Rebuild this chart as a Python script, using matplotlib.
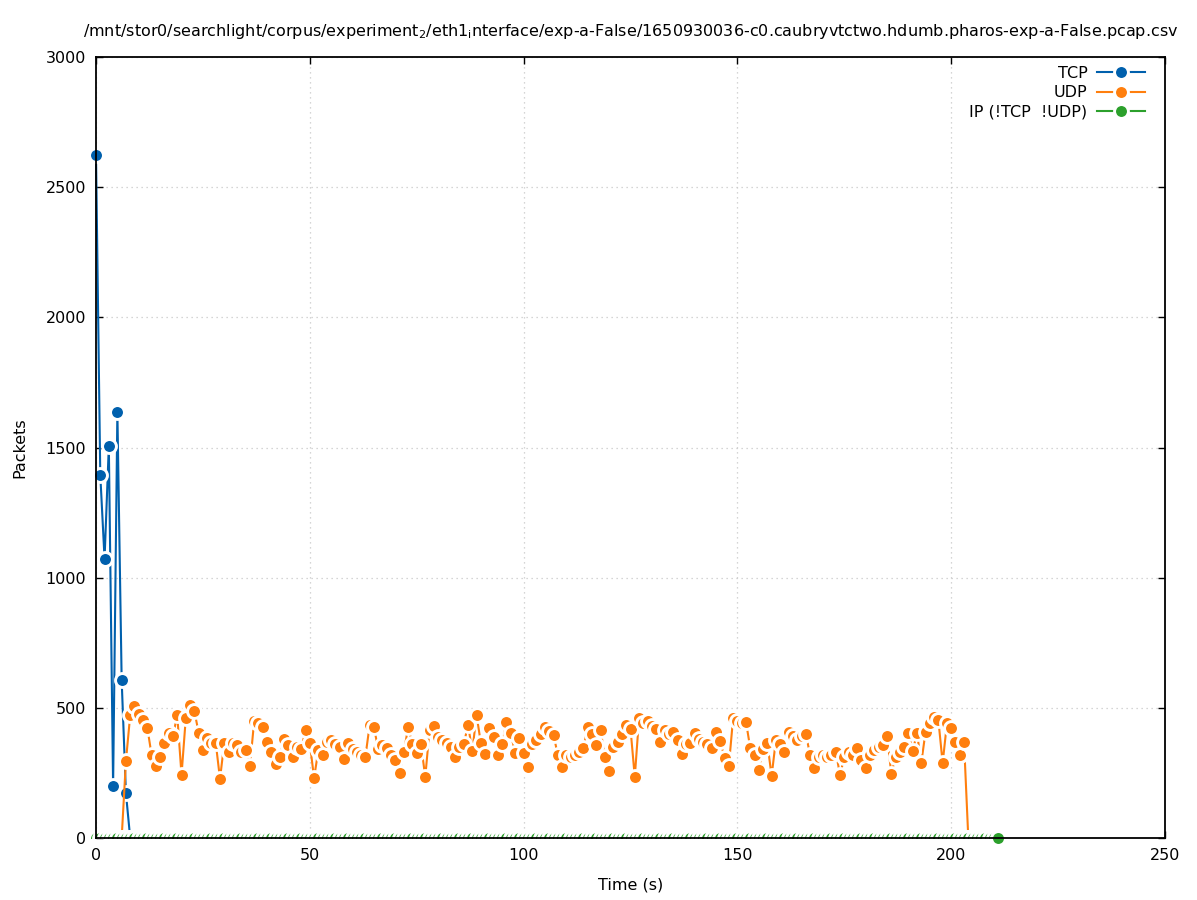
import matplotlib
matplotlib.use('Agg')
import matplotlib.pyplot as plt
from matplotlib.patches import Rectangle

# ---- data ----
time_s = list(range(0, 212))

tcp_head = [2623, 1395, 1072, 1505, 200, 1637, 607, 172]   # t = 0..7

udp_body = [                                                 # t = 7..203
    296, 472, 507, 476, 453, 424, 319, 277, 312, 366,
    405, 392, 472, 242, 461, 511, 488, 405, 338, 384,
    366, 366, 227, 366, 332, 365, 357, 332, 338, 277,
    451, 440, 426, 368, 330, 285, 312, 380, 357, 312,
    350, 342, 415, 365, 230, 338, 319, 370, 376, 360,
    350, 303, 365, 340, 330, 320, 312, 434, 426, 340,
    357, 346, 319, 300, 251, 330, 426, 360, 327, 361,
    234, 415, 430, 389, 375, 365, 350, 312, 351, 360,
    434, 335, 472, 365, 323, 422, 389, 319, 360, 447,
    403, 327, 384, 327, 273, 360, 376, 400, 426, 410,
    396, 319, 274, 319, 310, 319, 330, 346, 426, 400,
    357, 415, 312, 259, 350, 370, 400, 434, 420, 234,
    461, 440, 451, 430, 418, 370, 415, 400, 408, 376,
    323, 360, 365, 403, 380, 370, 360, 346, 408, 373,
    307, 277, 461, 450, 440, 447, 346, 319, 261, 340,
    365, 238, 376, 360, 330, 408, 390, 376, 390, 400,
    319, 269, 310, 320, 312, 320, 332, 242, 310, 330,
    319, 346, 300, 270, 320, 338, 350, 357, 392, 246,
    312, 330, 351, 403, 334, 403, 288, 408, 440, 466,
    453, 288, 440, 422, 370, 319, 369,
]

tcp = tcp_head + [0] * (len(time_s) - len(tcp_head))
udp = [0] * 7 + udp_body + [0] * (len(time_s) - 7 - len(udp_body))
ip_other = [0] * len(time_s)

series_labels = ['TCP', 'UDP', 'IP (!TCP  !UDP)']
series_colors = ['#0060ad', '#ff7f0e', '#2ca02c']

x_ticks = [0, 50, 100, 150, 200, 250]
y_ticks = [0, 500, 1000, 1500, 2000, 2500, 3000]

title = (r'/mnt/stor0/searchlight/corpus/experiment$_{\mathregular{2}}$/eth1$_{\mathregular{i}}$'
         r'nterface/exp-a-False/1650930036-c0.caubryvtctwo.hdumb.pharos-exp-a-False.pcap.csv')

FS = 11.5

# ---- figure ----
W, H = 1197, 900
fig = plt.figure(figsize=(W / 100, H / 100), dpi=100)
ax = fig.add_axes([96 / W, 1 - 838 / H, (1165 - 96) / W, (838 - 57) / H])

clip_rect = Rectangle((-0.1, 0), 1.2, 1.2, transform=ax.transAxes)

MS, MEW = 10.0, 2.1
style = dict(lw=1.5, marker='o', ms=MS, mew=MEW, mec='white')
for vals, lab, col in zip([tcp, udp, ip_other], series_labels, series_colors):
    ln, = ax.plot(time_s, vals, color=col, mfc=col, label=lab, **style)
    ln.set_clip_path(clip_rect)

# last green point drawn whole (like the reference)
ax.plot(time_s[-1:], ip_other[-1:], color=series_colors[2], mfc=series_colors[2],
        clip_on=False, linestyle='none', marker='o', ms=MS, mew=MEW, mec='white')

ax.set_xlim(0, 250)
ax.set_ylim(0, 3000)
ax.set_xticks(x_ticks)
ax.set_yticks(y_ticks)
ax.tick_params(direction='in', length=5, width=1, top=True, right=True,
               labelsize=FS, pad=7)
for sp in ax.spines.values():
    sp.set_linewidth(1.3)
ax.grid(True, color='#c8c8c8', linestyle=(0, (1, 3)), linewidth=0.9)

ax.set_xlabel('Time (s)', fontsize=FS, labelpad=11)
ax.set_ylabel('Packets', fontsize=FS, labelpad=13)
ax.set_title(title, fontsize=FS, pad=15)

leg = ax.legend(loc='upper right', bbox_to_anchor=(1145 / W, 1 - 66 / H),
                bbox_transform=fig.transFigure, frameon=False, fontsize=FS,
                markerfirst=False, handlelength=3.0, handletextpad=0.6,
                labelspacing=0.28, borderpad=0, borderaxespad=0, numpoints=1)

fig.savefig('out.png', dpi=100)
